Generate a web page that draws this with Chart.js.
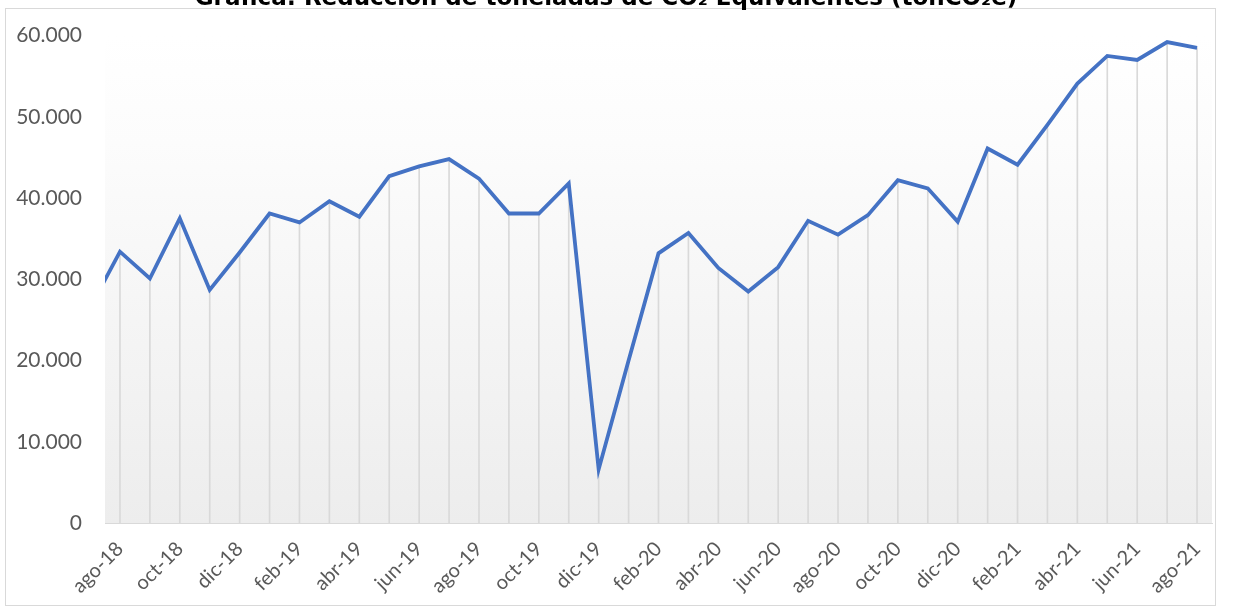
<!DOCTYPE html>
<html>
<head>
<meta charset="utf-8">
<script src="https://cdn.jsdelivr.net/npm/chart.js@4"></script>
<style>
  html, body { margin: 0; padding: 0; background: #ffffff; }
  #wrap { width: 1234px; height: 610px; }
</style>
</head>
<body>
<div id="wrap"><canvas id="c" width="1234" height="610"></canvas></div>
<script>
// ---- data ----
const titleText = 'Grafica: Reducción de toneladas de CO₂ Equivalentes (tonCO₂e)';
const months = ['jul-18','ago-18','sep-18','oct-18','nov-18','dic-18',
  'ene-19','feb-19','mar-19','abr-19','may-19','jun-19','jul-19','ago-19','sep-19','oct-19','nov-19','dic-19',
  'ene-20','feb-20','mar-20','abr-20','may-20','jun-20','jul-20','ago-20','sep-20','oct-20','nov-20','dic-20',
  'ene-21','feb-21','mar-21','abr-21','may-21','jun-21','jul-21','ago-21'];
const reduccion = [26500,33400,30100,37500,28700,33300,
  38100,37000,39600,37700,42700,43900,44800,42400,38100,38100,41800,6600,
  20000,33200,35700,31400,28500,31500,37200,35500,37900,42200,41200,37100,
  46100,44100,49000,54100,57500,57000,59200,58500];
const yTicks = [0,10000,20000,30000,40000,50000,60000];
// ticks shown on the x axis: every second month starting at ago-18
const xTickIdx = months.map((m,i)=>i).filter(i => i >= 1 && (i - 1) % 2 === 0);

const points = reduccion.map((v,i)=>({x:i, y:v}));
const fmt = v => String(v).replace(/\B(?=(\d{3})+(?!\d))/g, '.');

const bgPlugin = {
  id: 'bgPlugin',
  beforeDraw(chart) {
    const {ctx, chartArea: a} = chart;
    ctx.save();
    ctx.fillStyle = '#ffffff';
    ctx.fillRect(0, 0, chart.width, chart.height);
    const g = ctx.createLinearGradient(0, a.top, 0, a.bottom);
    g.addColorStop(0, '#ffffff');
    g.addColorStop(0.22, '#fcfcfc');
    g.addColorStop(1, '#ededed');
    ctx.fillStyle = g;
    ctx.fillRect(a.left, a.top - 10, a.right - a.left, a.bottom - a.top + 10);
    ctx.strokeStyle = '#d9d9d9';
    ctx.lineWidth = 1;
    ctx.strokeRect(5.5, 8.5, 1210, 597);
    ctx.restore();
  }
};

new Chart(document.getElementById('c'), {
  type: 'line',
  data: {
    datasets: [
      {
        type: 'line',
        data: points,
        borderColor: '#4472C4',
        borderWidth: 3.8,
        pointRadius: 0,
        tension: 0,
        fill: false,
        order: 1
      },
      {
        type: 'bar',
        data: points,
        backgroundColor: '#d9d9d9',
        borderWidth: 0,
        barThickness: 1,
        order: 2
      }
    ]
  },
  options: {
    responsive: false,
    devicePixelRatio: 1,
    animation: false,
    layout: { padding: { top: 33, right: 22, left: 0, bottom: 0 } },
    plugins: {
      legend: { display: false },
      tooltip: { enabled: false },
      title: {
        display: true,
        text: titleText,
        color: '#000000',
        font: { family: 'DejaVu Sans', weight: 'bold', size: 23 },
        padding: { top: -50, bottom: 22.4 }
      }
    },
    scales: {
      x: {
        type: 'linear',
        min: 0.5,
        max: 37.5,
        offset: false,
        grid: { display: false, drawTicks: false, tickLength: 0 },
        border: { display: true, color: '#d9d9d9', width: 1 },
        afterBuildTicks(scale) { scale.ticks = xTickIdx.map(v => ({value: v})); },
        afterFit(scale) { scale.height = 87; },
        ticks: {
          autoSkip: false,
          minRotation: 45,
          maxRotation: 45,
          padding: 14,
          color: '#595959',
          font: { family: 'Lato', size: 20 },
          callback: v => months[v]
        }
      },
      y: {
        min: 0,
        max: 60000,
        grid: { display: false, drawTicks: false, tickLength: 0 },
        border: { display: false },
        afterBuildTicks(scale) { scale.ticks = yTicks.map(v => ({value: v})); },
        afterFit(scale) { scale.width = 105; },
        ticks: {
          padding: 23,
          color: '#595959',
          font: { family: 'Lato', size: 21 },
          callback: v => fmt(v)
        }
      }
    }
  },
  plugins: [bgPlugin]
});
</script>
</body>
</html>
